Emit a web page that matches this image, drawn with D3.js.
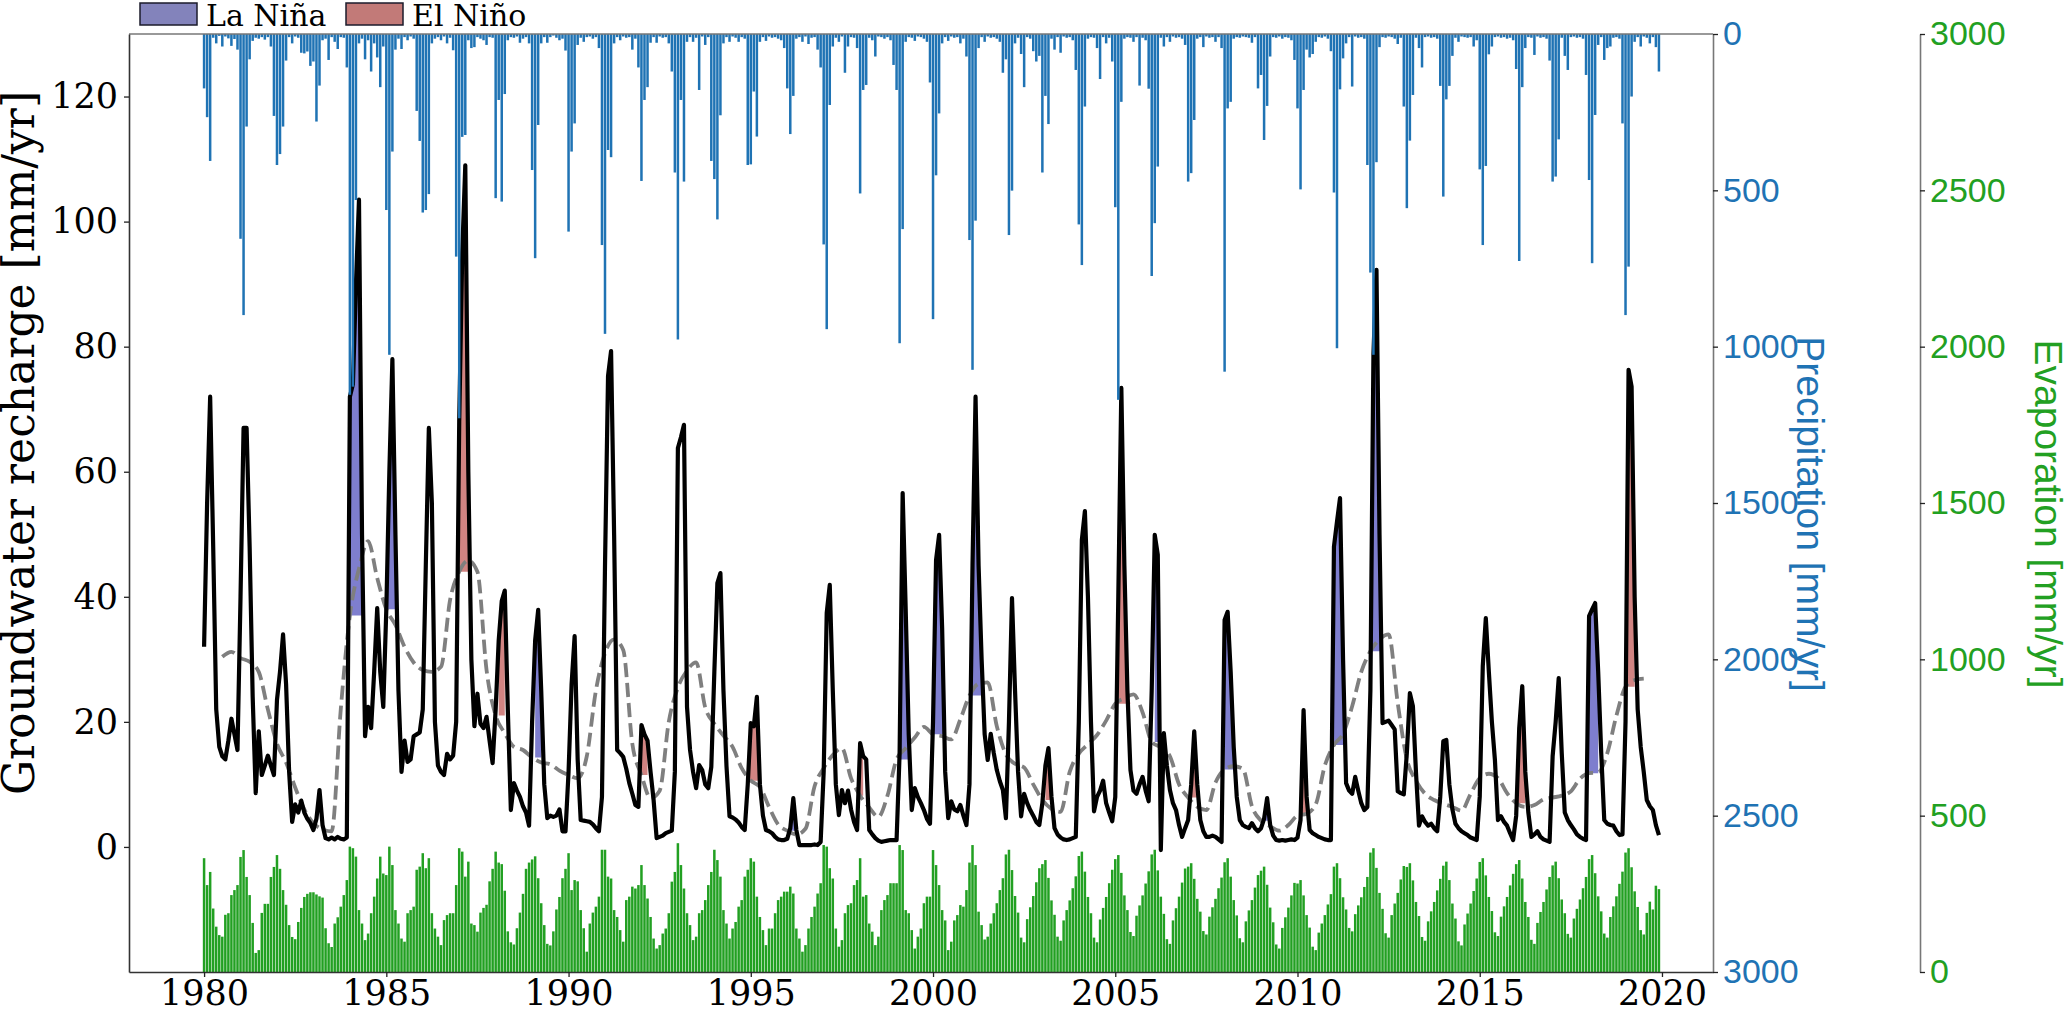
<!DOCTYPE html>
<html>
<head>
<meta charset="utf-8">
<script src="https://cdn.jsdelivr.net/npm/d3@7"></script>
<style>
  body { margin: 0; background: #fff; }
  svg { display: block; }
</style>
</head>
<body>
<div id="chart"></div>
<script>
// monthly series, Jan 1980 .. Dec 2019 (one row per year)
const startYear = 1980;

const recharge = [
  32, 55, 72, 48, 22, 16, 14.5, 14, 17, 20.5, 18, 15.5,
  40, 67, 67, 48, 24, 8.6, 18.5, 11.5, 13, 14.6, 13, 11.5,
  23.5, 28, 34, 26, 12, 4, 6.8, 5.5, 7.4, 5.5, 4.5, 3.8,
  2.7, 4.5, 9.1, 3.5, 1.4, 1.2, 1.5, 1.2, 1.6, 1.3, 1.2, 1.5,
  72, 74, 90, 103.5, 50, 17.7, 22.4, 19, 28, 38.2, 28, 22.4,
  38, 60, 78, 50, 25, 12, 17, 13.6, 14, 17.7, 18, 18.3,
  22, 45, 67, 55, 20, 13, 12, 11.5, 14.9, 14, 14.6, 20,
  68, 95, 109, 60, 30, 19.3, 24.5, 19.7, 19, 20.8, 17, 13.4,
  22, 33, 39.3, 41, 22, 5.9, 10.2, 9, 8, 6.5, 5.5, 3.4,
  20, 33, 37.9, 25, 10, 4.6, 5, 4.8, 5, 6, 2.5, 2.5,
  12, 26, 33.7, 14, 4.3, 4.2, 4.1, 4, 3.6, 3, 2.5, 8,
  45, 75.3, 79.3, 50, 15.5, 15, 14.4, 12.5, 10.2, 8.5, 6.7, 6.4,
  19.5, 18, 17, 12, 7.5, 1.4, 1.6, 1.8, 2.2, 2.4, 2.6, 12,
  63.8, 65.5, 67.5, 22.4, 15.5, 12, 9.4, 13.1, 12.3, 10, 9.4, 12.8,
  28, 42.2, 43.8, 25, 12.9, 4.9, 4.7, 4.4, 3.9, 3.2, 2.7, 10,
  19.8, 19.3, 24, 10, 5, 2.7, 2.5, 2.2, 1.6, 1.2, 1.1, 1.1,
  1.3, 3, 7.8, 2.7, 0.3, 0.3, 0.3, 0.3, 0.3, 0.4, 0.3, 0.8,
  12, 37.4, 41.9, 25, 10, 5.1, 9.1, 7, 9, 6, 4, 2.7,
  16.6, 14.5, 14, 2.7, 2, 1.4, 1, 0.8, 0.9, 1, 1.1, 1.1,
  1.1, 15, 56.6, 38, 18, 5.9, 9.4, 8, 7, 5.9, 4.5, 3.7,
  20, 45.9, 49.9, 35, 12, 4.6, 7.3, 6, 5.7, 6.7, 5, 3.5,
  10, 45, 72, 45, 30, 18, 13.9, 18.1, 15, 12.3, 10.5, 9.1,
  4.6, 20, 39.8, 25, 12, 4.9, 8.5, 7, 5.9, 5, 4, 3.5,
  7, 13, 15.8, 8, 3, 2, 1.5, 1.2, 1.1, 1.2, 1.4, 1.6,
  20, 49.1, 53.7, 40, 20, 5.7, 8, 9, 10.6, 7, 5.5, 4.1,
  8, 40, 73.4, 45, 25, 12.3, 9, 8.5, 10, 11.2, 9, 7.3,
  25, 49.9, 46.7, -0.5, 18.2, 13, 9.1, 7, 5.9, 3.5, 1.6, 3,
  4.3, 10, 18.5, 10, 4.3, 2.5, 1.6, 1.6, 1.8, 1.6, 1.2, 0.8,
  36.3, 37.6, 28, 16, 8, 4.3, 3.5, 3.2, 3, 3.8, 3, 2.5,
  3, 4.5, 7.8, 3.5, 1.8, 1.1, 1, 1.1, 1, 1.1, 1.2, 1.1,
  1.5, 4.3, 21.9, 8, 2.7, 2.2, 1.9, 1.6, 1.4, 1.2, 1.1, 1.1,
  48, 52, 55.8, 30, 10.2, 9, 8.5, 11.2, 9, 7, 5.9, 6.4,
  25, 78.7, 92.3, 50, 19.8, 20, 20.2, 19.5, 18.8, 8.9, 8.6, 8.4,
  15, 24.6, 22.5, 12, 3.4, 4.9, 4, 3.4, 3.7, 3, 2.5, 8,
  16.9, 17.1, 10, 6, 3.7, 3, 2.5, 2.2, 1.9, 1.5, 1.3, 1.1,
  8, 28.9, 36.6, 28, 20, 13.9, 4.3, 4.9, 4, 3.4, 2.2, 1.1,
  5, 19, 25.7, 12, 5.5, 1.6, 2, 2.5, 1.6, 1.2, 1, 0.8,
  14.5, 20, 27, 15, 5.5, 4.3, 3.5, 2.8, 2, 1.6, 1.3, 1.1,
  36.9, 38, 39, 28, 15, 4.3, 3.7, 3.5, 3.4, 2.5, 1.9, 2,
  20, 76.3, 73.6, 40, 22, 16, 12, 7.5, 6.5, 5.9, 3.5, 1.9
];

// 12-month centred mean of recharge, read every third month from Jul 1980
const rollingStart = 6, rollingStep = 3;
const rollingMean = [
  30.4, 31.2, 30.2, 29.6, 28, 22, 16.5, 13.5, 9.5, 6,
  3.8, 2.8, 2.5, 22, 37, 44.5, 48.9, 43, 38, 35.5,
  32, 29.5, 28.3, 28, 28.8, 39.5, 44, 45.8, 44, 28.3,
  21, 18.2, 16, 15.5, 14.3, 13.5, 13.2, 12.2, 11.5, 11,
  14.5, 25, 31, 33.2, 31.5, 16.5, 11.5, 7.8, 9, 20,
  25.5, 28.2, 29.5, 22.3, 19.7, 17.8, 16, 12.6, 10.6, 9.6,
  6.4, 3.6, 2.6, 2, 2.9, 9.7, 12.6, 14.7, 15.8, 11,
  8.2, 6.3, 4.8, 8.2, 14, 15.8, 17.5, 19.2, 18, 17.7,
  17.2, 20.4, 24.2, 26.1, 26.3, 19.3, 14.8, 13.3, 12.7, 10,
  7.5, 6.1, 5.6, 12, 14.9, 16.4, 17.9, 20.2, 22.9, 23.8,
  24.4, 21.5, 16.8, 15.9, 14.5, 10, 7.9, 6.4, 5.9, 10.3,
  12.4, 12.9, 12.5, 6.5, 4.2, 3.3, 2.6, 3.5, 5, 5.3,
  6.8, 13, 16.3, 18.1, 22.5, 28, 31.3, 33.2, 34, 23,
  14, 10.6, 8.5, 7.5, 6.9, 6.4, 5.8, 8.5, 11, 11.7,
  11, 8.6, 7, 6.4, 6.7, 7.6, 7.9, 8.2, 8.9, 10.9,
  11.8, 11.9, 15, 21, 25.6, 26.7, 26.9
];

const precipitation = [
  174, 266, 406, 12, 30, 6, 40, 8, 14, 38, 16, 50,
  655, 899, 296, 81, 22, 12, 15, 10, 18, 10, 40, 262,
  419, 384, 296, 85, 10, 30, 8, 12, 60, 62, 56, 102,
  88, 280, 165, 20, 15, 83, 10, 25, 48, 10, 12, 107,
  1154, 1128, 531, 30, 15, 81, 20, 120, 30, 75, 170, 40,
  563, 1026, 376, 50, 15, 48, 10, 20, 8, 15, 246, 342,
  571, 563, 512, 30, 15, 10, 20, 8, 30, 12, 52, 712,
  1229, 329, 323, 20, 45, 42, 10, 15, 20, 35, 10, 12,
  525, 211, 536, 192, 20, 10, 12, 8, 28, 15, 10, 30,
  435, 717, 291, 30, 10, 28, 10, 5, 12, 20, 15, 53,
  632, 376, 286, 35, 12, 25, 10, 8, 15, 10, 45, 675,
  959, 371, 394, 30, 10, 20, 8, 12, 10, 50, 15, 107,
  470, 211, 170, 28, 10, 28, 8, 12, 10, 30, 120, 443,
  977, 211, 472, 25, 10, 25, 12, 179, 8, 35, 10, 406,
  464, 593, 260, 30, 10, 25, 8, 12, 25, 10, 15, 419,
  417, 184, 328, 25, 10, 22, 8, 12, 10, 15, 20, 45,
  174, 320, 198, 15, 10, 25, 8, 32, 12, 10, 50, 107,
  673, 944, 227, 40, 12, 25, 8, 124, 40, 10, 12, 45,
  510, 179, 163, 12, 20, 72, 8, 10, 15, 10, 20, 99,
  179, 989, 624, 25, 10, 12, 22, 8, 10, 15, 25, 155,
  912, 452, 254, 30, 10, 22, 8, 12, 10, 30, 15, 72,
  659, 1074, 597, 45, 10, 25, 8, 12, 10, 15, 25, 124,
  81, 643, 501, 30, 12, 64, 170, 10, 15, 55, 88, 70,
  443, 198, 288, 15, 50, 10, 60, 8, 12, 10, 20, 115,
  609, 739, 232, 15, 10, 12, 45, 144, 10, 30, 12, 88,
  554, 1170, 217, 15, 10, 12, 25, 10, 165, 12, 20, 175,
  774, 605, 424, 12, 40, 10, 25, 8, 12, 10, 15, 35,
  472, 445, 275, 15, 10, 42, 8, 12, 10, 25, 10, 45,
  1080, 238, 217, 15, 10, 12, 8, 10, 12, 28, 10, 174,
  131, 339, 230, 72, 10, 12, 8, 15, 10, 12, 20, 83,
  238, 497, 179, 50, 75, 64, 25, 10, 12, 8, 15, 55,
  507, 1005, 177, 78, 30, 10, 168, 8, 12, 10, 15, 419,
  763, 1026, 410, 42, 10, 12, 8, 10, 15, 32, 12, 232,
  557, 341, 195, 12, 45, 107, 10, 8, 12, 10, 15, 166,
  520, 209, 166, 70, 12, 25, 8, 10, 12, 10, 40, 20,
  433, 675, 422, 65, 40, 10, 8, 12, 10, 15, 12, 20,
  112, 726, 170, 45, 10, 12, 67, 8, 12, 10, 15, 85,
  472, 456, 337, 12, 70, 115, 10, 8, 12, 10, 15, 131,
  467, 733, 259, 35, 10, 83, 45, 40, 12, 10, 15, 286,
  899, 744, 200, 25, 10, 40, 8, 12, 30, 10, 42, 120
];

const evaporation = [
  364, 278, 320, 203, 145, 118, 113, 183, 188, 246, 262, 278,
  368, 390, 304, 246, 157, 61, 70, 189, 218, 218, 304, 336,
  374, 330, 262, 215, 150, 112, 105, 160, 205, 240, 250, 255,
  255, 248, 242, 238, 140, 92, 80, 155, 175, 209, 246, 294,
  401, 396, 369, 198, 155, 102, 123, 188, 241, 299, 369, 315,
  310, 401, 342, 198, 155, 107, 97, 188, 198, 209, 327, 337,
  380, 332, 364, 188, 139, 113, 86, 166, 182, 188, 188, 278,
  396, 385, 305, 353, 155, 150, 129, 190, 205, 215, 290, 330,
  385, 350, 345, 260, 130, 95, 88, 140, 190, 250, 330, 350,
  360, 370, 300, 220, 150, 90, 85, 130, 200, 240, 300, 330,
  380, 262, 294, 290, 198, 140, 65, 155, 190, 209, 241, 391,
  391, 305, 299, 198, 176, 134, 97, 230, 241, 273, 267, 278,
  342, 278, 235, 176, 107, 75, 86, 123, 139, 188, 289, 320,
  412, 342, 267, 188, 150, 102, 113, 188, 198, 230, 278, 320,
  391, 358, 305, 198, 155, 107, 139, 160, 209, 230, 305, 327,
  364, 353, 241, 176, 134, 86, 139, 139, 188, 230, 241, 257,
  257, 273, 251, 139, 107, 65, 86, 139, 176, 209, 251, 284,
  406, 401, 332, 299, 139, 81, 102, 188, 214, 220, 278, 294,
  364, 241, 246, 155, 129, 86, 113, 198, 230, 246, 284, 284,
  284, 406, 390, 198, 188, 134, 75, 113, 139, 220, 241, 241,
  390, 342, 278, 198, 165, 70, 97, 165, 182, 214, 209, 262,
  350, 406, 342, 193, 150, 104, 113, 155, 188, 220, 262, 300,
  376, 391, 326, 243, 190, 110, 95, 169, 207, 243, 287, 332,
  345, 358, 301, 229, 183, 113, 100, 165, 198, 229, 268, 306,
  371, 385, 321, 240, 188, 110, 95, 168, 205, 240, 284, 327,
  361, 374, 317, 245, 198, 128, 115, 180, 213, 245, 283, 322,
  376, 391, 325, 241, 186, 105, 90, 165, 204, 241, 286, 331,
  337, 348, 298, 234, 193, 131, 120, 177, 207, 234, 268, 302,
  351, 364, 305, 230, 181, 108, 95, 162, 197, 230, 270, 310,
  324, 337, 279, 206, 159, 88, 75, 141, 175, 206, 245, 285,
  283, 294, 245, 182, 142, 81, 70, 126, 155, 182, 216, 249,
  337, 348, 300, 239, 200, 141, 130, 185, 213, 239, 272, 304,
  382, 396, 333, 253, 202, 124, 110, 182, 219, 253, 296, 339,
  336, 348, 293, 224, 179, 112, 100, 162, 194, 224, 261, 298,
  340, 353, 294, 219, 171, 98, 85, 152, 187, 219, 259, 299,
  352, 364, 309, 240, 195, 127, 115, 177, 210, 240, 277, 314,
  345, 358, 299, 224, 176, 103, 90, 157, 192, 224, 264, 304,
  341, 353, 300, 232, 188, 122, 110, 171, 202, 232, 268, 304,
  361, 374, 316, 242, 194, 123, 110, 176, 210, 242, 282, 321,
  382, 396, 335, 258, 208, 134, 120, 189, 225, 200, 276, 265
];

// ENSO phases shaded where recharge rises above the running mean (month indices)
const ensoEvents = [
  ["La Niña", 48, 52], ["La Niña", 60, 63], ["El Niño", 84, 88], ["El Niño", 97, 99],
  ["La Niña", 109, 111], ["El Niño", 143, 146], ["El Niño", 179, 183], ["La Niña", 193, 195],
  ["El Niño", 216, 217], ["La Niña", 229, 232], ["La Niña", 240, 244], ["La Niña", 252, 256],
  ["El Niño", 277, 279], ["El Niño", 301, 305], ["La Niña", 313, 316], ["El Niño", 325, 327],
  ["La Niña", 336, 340], ["La Niña", 349, 351], ["El Niño", 361, 363], ["La Niña", 372, 375],
  ["La Niña", 384, 388], ["El Niño", 432, 435], ["La Niña", 456, 459], ["El Niño", 468, 471]
];

const yearTicks = [1980, 1985, 1990, 1995, 2000, 2005, 2010, 2015, 2020];
const rechargeTicks = [0, 20, 40, 60, 80, 100, 120];
const precipTicks = [0, 500, 1000, 1500, 2000, 2500, 3000];
const evapTicks = [0, 500, 1000, 1500, 2000, 2500, 3000];

const width = 2067, height = 1011;
const plot = {left: 129, right: 1713, top: 34, bottom: 972};
const evapAxisX = 1920;

const serif = "'DejaVu Serif', serif";
const sans = "'Liberation Sans', Arial, sans-serif";
const blue = "#1f73b4", green = "#22a022";
const phaseColor = {"La Niña": "#5353bd", "El Niño": "#c25b58"};

const x = d3.scaleLinear().domain([1977.94, 2021.4]).range([plot.left, plot.right]);
const yR = d3.scaleLinear().domain([-20, 130]).range([plot.bottom, plot.top]);
const yP = d3.scaleLinear().domain([0, 3000]).range([plot.top, plot.bottom]);
const yE = d3.scaleLinear().domain([0, 3000]).range([plot.bottom, plot.top]);
const monthX = i => x(startYear + i / 12);

const svg = d3.select("#chart").append("svg")
    .attr("width", width)
    .attr("height", height);

svg.append("rect").attr("width", width).attr("height", height).attr("fill", "#fff");

// shaded ENSO peaks
const rollingAt = i => rollingMean[Math.max(0, Math.min(rollingMean.length - 1, Math.round((i - rollingStart) / rollingStep)))];

ensoEvents.forEach(([phase, from, to]) => {
    const base = rollingAt(from);
    const area = d3.area()
        .x(i => monthX(i))
        .y0(yR(base))
        .y1(i => yR(Math.max(recharge[i], base)));
    svg.append("path")
        .attr("d", area(d3.range(from, to + 1)))
        .attr("fill", phaseColor[phase])
        .attr("fill-opacity", 0.75);
});

// running mean
svg.append("path")
    .attr("d", d3.line()
        .x((d, k) => monthX(rollingStart + k * rollingStep))
        .y(d => yR(d))
        .curve(d3.curveMonotoneX)(rollingMean))
    .attr("fill", "none")
    .attr("stroke", "#7f7f7f")
    .attr("stroke-width", 3.8)
    .attr("stroke-dasharray", "14,6");

// recharge
svg.append("path")
    .attr("d", d3.line().x((d, i) => monthX(i)).y(d => yR(d))(recharge))
    .attr("fill", "none")
    .attr("stroke", "#000")
    .attr("stroke-width", 4.2)
    .attr("stroke-linejoin", "round");

const bw = 2.5;

// precipitation, hanging from the top
svg.append("g").selectAll("rect")
    .data(precipitation)
    .enter().append("rect")
    .attr("x", (d, i) => monthX(i) - bw / 2)
    .attr("y", yP(0))
    .attr("width", bw)
    .attr("height", d => yP(d) - yP(0))
    .attr("fill", blue);

// evaporation, from the bottom
svg.append("g").selectAll("rect")
    .data(evaporation)
    .enter().append("rect")
    .attr("x", (d, i) => monthX(i) - bw / 2)
    .attr("y", d => yE(d))
    .attr("width", bw)
    .attr("height", d => yE(0) - yE(d))
    .attr("fill", green);

// axes
const styleAxis = (g, font, size, color, spine) => {
    g.select(".domain").attr("stroke", spine).attr("stroke-width", 1.6);
    g.selectAll(".tick line").attr("stroke", "#222").attr("stroke-width", 1.3);
    g.selectAll(".tick text").attr("font-family", font).attr("font-size", size).attr("fill", color);
};

svg.append("line")
    .attr("x1", plot.left).attr("x2", plot.right)
    .attr("y1", plot.top).attr("y2", plot.top)
    .attr("stroke", "#777").attr("stroke-width", 1.6);

svg.append("g")
    .attr("transform", `translate(0,${plot.bottom})`)
    .call(d3.axisBottom(x).tickValues(yearTicks).tickFormat(d3.format("d"))
        .tickSize(5).tickSizeOuter(0).tickPadding(3))
    .call(g => styleAxis(g, serif, 35, "#000", "#333"));

svg.append("g")
    .attr("transform", `translate(${plot.left},0)`)
    .call(d3.axisLeft(yR).tickValues(rechargeTicks).tickFormat(d3.format("d"))
        .tickSize(5).tickSizeOuter(0).tickPadding(6))
    .call(g => styleAxis(g, serif, 35, "#000", "#333"));

svg.append("g")
    .attr("transform", `translate(${plot.right},0)`)
    .call(d3.axisRight(yP).tickValues(precipTicks).tickFormat(d3.format("d"))
        .tickSize(5).tickSizeOuter(0).tickPadding(5))
    .call(g => styleAxis(g, sans, 34, blue, "#777"));

svg.append("g")
    .attr("transform", `translate(${evapAxisX},0)`)
    .call(d3.axisRight(yE).tickValues(evapTicks).tickFormat(d3.format("d"))
        .tickSize(5).tickSizeOuter(0).tickPadding(5))
    .call(g => styleAxis(g, sans, 34, green, "#777"));

// axis titles
svg.append("text")
    .attr("transform", "translate(34,443) rotate(-90)")
    .attr("text-anchor", "middle")
    .attr("font-family", serif).attr("font-size", 44)
    .text("Groundwater recharge [mm/yr]");

svg.append("text")
    .attr("transform", "translate(1797,514) rotate(90)")
    .attr("text-anchor", "middle")
    .attr("font-family", sans).attr("font-size", 39).attr("fill", blue)
    .text("Precipitation [mm/yr]");

svg.append("text")
    .attr("transform", "translate(2035,514) rotate(90)")
    .attr("text-anchor", "middle")
    .attr("font-family", sans).attr("font-size", 39).attr("fill", green)
    .text("Evaporation [mm/yr]");

// legend
const legend = svg.append("g");
[["La Niña", 140, "#8383bb"], ["El Niño", 346, "#c27a78"]].forEach(([name, lx, fill]) => {
    legend.append("rect")
        .attr("x", lx).attr("y", 3).attr("width", 57).attr("height", 22)
        .attr("fill", fill).attr("stroke", "#1b1b2b").attr("stroke-width", 1.5);
    legend.append("text")
        .attr("x", lx + 66).attr("y", 26)
        .attr("font-family", serif).attr("font-size", 30)
        .text(name);
});
</script>
</body>
</html>
